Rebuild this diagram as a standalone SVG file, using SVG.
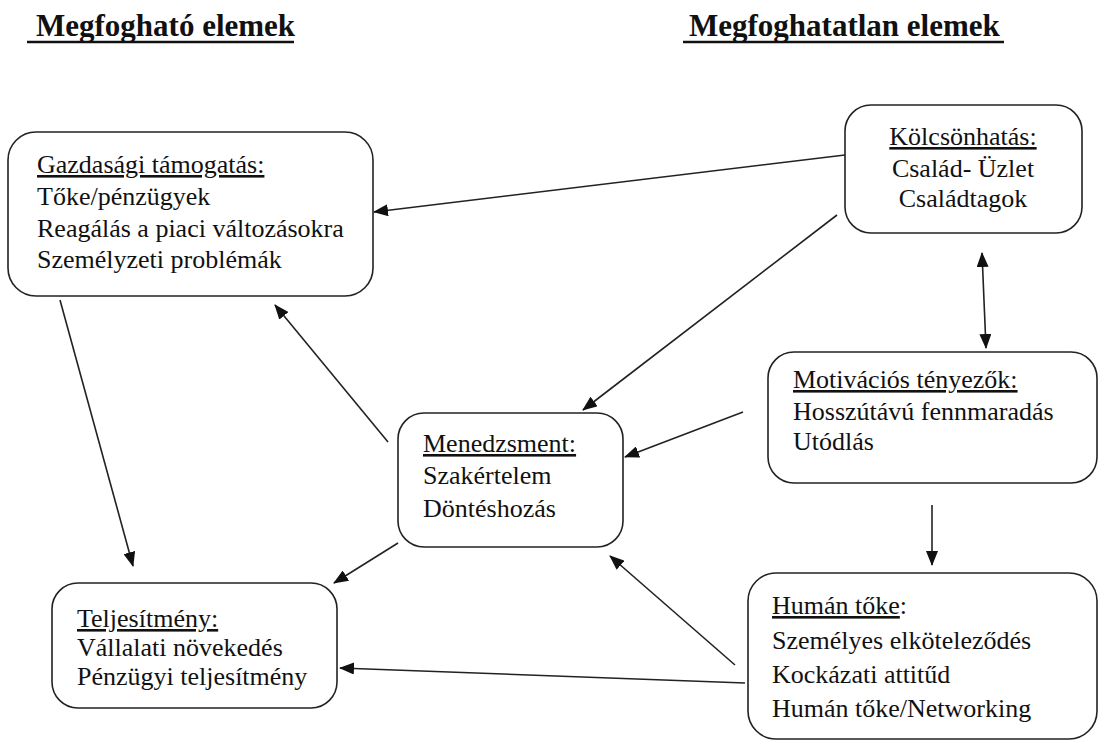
<svg xmlns="http://www.w3.org/2000/svg" width="1099" height="742" viewBox="0 0 1099 742">
<defs>
<marker id="arr" markerUnits="userSpaceOnUse" markerWidth="15" markerHeight="12" refX="14" refY="6" orient="auto-start-reverse">
<path d="M0,0 L15,6 L0,12 z" fill="#111"/>
</marker>
</defs>
<style>
.box{fill:#fff;stroke:#222;stroke-width:1.6}
.t{font-family:"Liberation Serif","Times New Roman",serif;font-size:26px;fill:#111}
.title{font-family:"Liberation Serif","Times New Roman",serif;font-size:31px;font-weight:bold;fill:#111}
.u{text-decoration:underline}
.c{stroke:#222;stroke-width:1.6;fill:none;marker-end:url(#arr)}
</style>
<rect width="1099" height="742" fill="#fff"/>
<g id="titles">
<text class="title" x="36" y="36">Megfogható elemek</text>
<line x1="27" y1="42" x2="294" y2="42" stroke="#111" stroke-width="2.5"/>
<text class="title" x="689" y="36">Megfoghatatlan elemek</text>
<line x1="683" y1="42" x2="1004" y2="42" stroke="#111" stroke-width="2.5"/>
</g>
<g id="connectors">
<line class="c" x1="845" y1="155" x2="374" y2="212"/>
<line class="c" x1="837" y1="215" x2="583" y2="410"/>
<line class="c" x1="982" y1="253" x2="986" y2="348" marker-start="url(#arr)"/>
<line class="c" x1="743" y1="412" x2="625" y2="457"/>
<line class="c" x1="388" y1="442" x2="275" y2="305"/>
<line class="c" x1="60" y1="300" x2="133" y2="566"/>
<line class="c" x1="398" y1="543" x2="334" y2="583"/>
<line class="c" x1="932" y1="505" x2="932" y2="565"/>
<line class="c" x1="735" y1="665" x2="610" y2="556"/>
<line class="c" x1="745" y1="683" x2="340" y2="668"/>
</g>
<g id="gazdasagi">
<rect class="box" x="8" y="132" width="365" height="164" rx="28"/>
<text class="t" x="37" y="173"><tspan class="u">Gazdasági támogatás:</tspan></text>
<text class="t" x="37" y="205">Tőke/pénzügyek</text>
<text class="t" x="37" y="237">Reagálás a piaci változásokra</text>
<text class="t" x="37" y="268">Személyzeti problémák</text>
</g>
<g id="kolcsonhatas">
<rect class="box" x="845" y="105" width="237" height="128" rx="26"/>
<text class="t" x="963" y="145" text-anchor="middle"><tspan class="u">Kölcsönhatás:</tspan></text>
<text class="t" x="963" y="177" text-anchor="middle">Család- Üzlet</text>
<text class="t" x="963" y="207" text-anchor="middle">Családtagok</text>
</g>
<g id="motivacios">
<rect class="box" x="768" y="352" width="329" height="131" rx="26"/>
<text class="t" x="793" y="388"><tspan class="u">Motivációs tényezők:</tspan></text>
<text class="t" x="793" y="420">Hosszútávú fennmaradás</text>
<text class="t" x="793" y="450">Utódlás</text>
</g>
<g id="menedzsment">
<rect class="box" x="398" y="413" width="225" height="134" rx="26"/>
<text class="t" x="423" y="452"><tspan class="u">Menedzsment:</tspan></text>
<text class="t" x="423" y="484">Szakértelem</text>
<text class="t" x="423" y="517">Döntéshozás</text>
</g>
<g id="human">
<rect class="box" x="748" y="573" width="349" height="166" rx="28"/>
<text class="t" x="772" y="614"><tspan class="u">Humán tőke</tspan>:</text>
<text class="t" x="772" y="649">Személyes elköteleződés</text>
<text class="t" x="772" y="683">Kockázati attitűd</text>
<text class="t" x="772" y="717">Humán tőke/Networking</text>
</g>
<g id="teljesitmeny">
<rect class="box" x="52" y="583" width="285" height="125" rx="26"/>
<text class="t" x="77" y="627"><tspan class="u">Teljesítmény:</tspan></text>
<text class="t" x="77" y="656">Vállalati növekedés</text>
<text class="t" x="77" y="685">Pénzügyi teljesítmény</text>
</g>
</svg>
